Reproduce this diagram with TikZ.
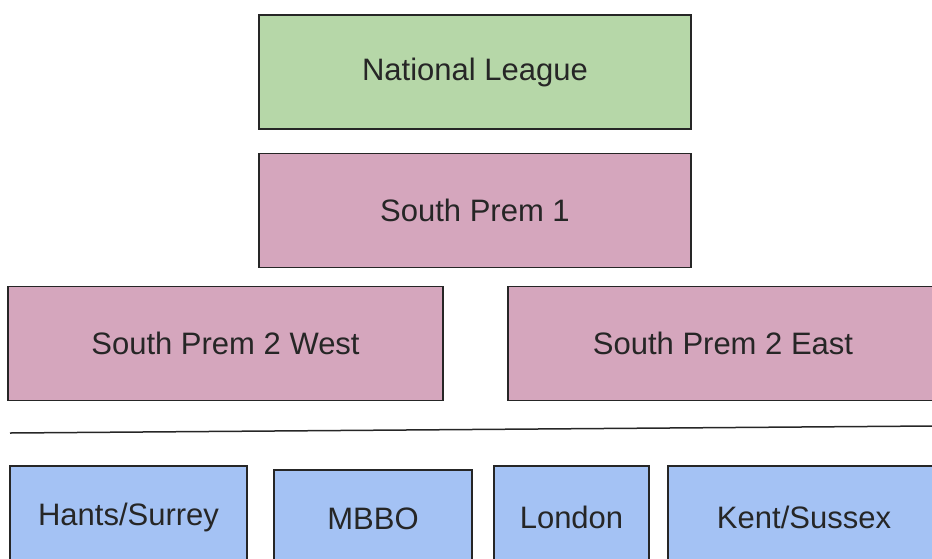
\documentclass[tikz,border=0pt]{standalone}
\usepackage{fontspec}
\setmainfont{Liberation Sans}
\usepackage{tikz}
\usetikzlibrary{positioning}
\definecolor{leaguegreen}{HTML}{B6D7A8}
\definecolor{prempink}{HTML}{D5A6BD}
\definecolor{countyblue}{HTML}{A4C2F4}

\begin{document}
\begin{tikzpicture}[
  x=1pt, y=-1pt,
  tier/.style={draw=black!85, line width=1.5pt, rectangle, align=center, inner sep=0pt,
    minimum height=114pt, font=\fontsize{31}{36}\selectfont, text=black!85},
  county/.style={tier, fill=countyblue, minimum height=102pt},
]
\useasboundingbox (0,0) rectangle (932,558);
\clip (0,0) rectangle (932,558);
\node[tier, fill=leaguegreen, minimum width=432pt] (national) at (475,72) {National League};
\node[tier, fill=prempink, minimum width=432pt, below=23pt of national] (prem1) {South Prem 1};

\node[tier, fill=prempink, minimum width=435pt] (prem2w) at (225.5,343.5) {South Prem 2 West};
\node[tier, fill=prempink, minimum width=430pt] (prem2e) at (723,343.5) {South Prem 2 East};

\coordinate (divl) at (10,433);
\coordinate (divr) at (932,426);
\draw[line width=1.5pt, black!85] (divl) -- (divr);

\node[county, minimum width=237pt] (hants) at (128.5,517) {Hants/Surrey};
\node[county, minimum width=198pt, minimum height=98pt] (mbbo) at (373,519) {MBBO};
\node[county, minimum width=155pt] (london) at (571.5,517) {London};
\node[county, minimum width=272pt] (kent) at (804,517) {Kent/Sussex};
\end{tikzpicture}
\end{document}
